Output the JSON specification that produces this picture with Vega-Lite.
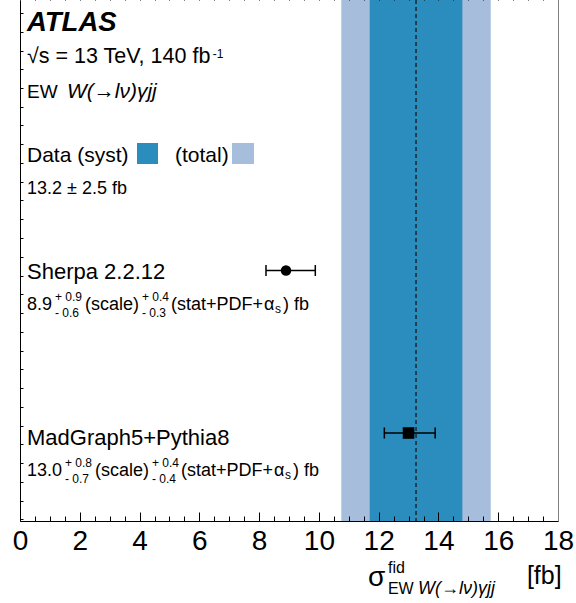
{
  "$schema": "https://vega.github.io/schema/vega-lite/v6.json",
  "width": 538,
  "height": 521,
  "autosize": "none",
  "padding": {"left": 20, "top": 0, "right": 18, "bottom": 82},
  "background": "white",
  "config": {"view": {"stroke": null}, "axis": {"grid": false}},
  "datasets": {
    "bands": [
      {"kind": "total", "lo": 10.75, "hi": 15.75},
      {"kind": "syst", "lo": 11.7, "hi": 14.8}
    ],
    "central": [{"value": 13.25}],
    "preds": [
      {"model": "Sherpa 2.2.12", "x": 8.9, "lo": 8.23, "hi": 9.88, "y": 2.705},
      {"model": "MadGraph5+Pythia8", "x": 13.0, "lo": 12.19, "hi": 13.89, "y": 4.33}
    ],
    "keys": [
      {"kind": "syst", "x": 3.914, "x2": 4.617, "y": 1.43, "y2": 1.64},
      {"kind": "total", "x": 7.093, "x2": 7.829, "y": 1.43, "y2": 1.64}
    ],
    "texts": [
      {"style": "atlas", "x": 0.234, "y": 0.31, "text": "ATLAS"},
      {"style": "energy", "x": 0.234, "y": 0.63, "text": "√s = 13 TeV, 140 fb"},
      {"style": "esup", "x": 6.45, "y": 0.575, "text": "-1"},
      {"style": "med", "x": 0.234, "y": 0.98, "text": "EW"},
      {"style": "medital", "x": 1.57, "y": 0.98, "text": "W(→lν)γjj"},
      {"style": "big", "x": 0.234, "y": 1.62, "text": "Data (syst)"},
      {"style": "big", "x": 5.186, "y": 1.62, "text": "(total)"},
      {"style": "val", "x": 0.234, "y": 1.94, "text": "13.2 ± 2.5 fb"},
      {"style": "name", "x": 0.234, "y": 2.79, "text": "Sherpa 2.2.12"},
      {"style": "val", "x": 0.234, "y": 3.10, "text": "8.9"},
      {"style": "script", "x": 1.171, "y": 3.005, "text": "+ 0.9"},
      {"style": "script", "x": 1.171, "y": 3.165, "text": "- 0.6"},
      {"style": "val", "x": 2.175, "y": 3.10, "text": "(scale)"},
      {"style": "script", "x": 4.082, "y": 3.005, "text": "+ 0.4"},
      {"style": "script", "x": 4.082, "y": 3.165, "text": "- 0.3"},
      {"style": "val", "x": 5.052, "y": 3.10, "text": "(stat+PDF+"},
      {"style": "val", "x": 8.163, "y": 3.10, "text": "α"},
      {"style": "script", "x": 8.531, "y": 3.13, "text": "s"},
      {"style": "val", "x": 8.799, "y": 3.10, "text": ") fb"},
      {"style": "name", "x": 0.234, "y": 4.45, "text": "MadGraph5+Pythia8"},
      {"style": "val", "x": 0.234, "y": 4.76, "text": "13.0"},
      {"style": "script", "x": 1.506, "y": 4.665, "text": "+ 0.8"},
      {"style": "script", "x": 1.506, "y": 4.825, "text": "- 0.7"},
      {"style": "val", "x": 2.509, "y": 4.76, "text": "(scale)"},
      {"style": "script", "x": 4.416, "y": 4.665, "text": "+ 0.4"},
      {"style": "script", "x": 4.416, "y": 4.825, "text": "- 0.4"},
      {"style": "val", "x": 5.386, "y": 4.76, "text": "(stat+PDF+"},
      {"style": "val", "x": 8.498, "y": 4.76, "text": "α"},
      {"style": "script", "x": 8.866, "y": 4.79, "text": "s"},
      {"style": "val", "x": 9.134, "y": 4.76, "text": ") fb"},
      {"style": "sigma", "x": 11.64, "y": 5.86, "text": "σ"},
      {"style": "tsup", "x": 12.31, "y": 5.73, "text": "fid"},
      {"style": "tsub", "x": 12.31, "y": 5.94, "text": "EW"},
      {"style": "tsubital", "x": 13.32, "y": 5.94, "text": "W(→lν)γjj"},
      {"style": "unit", "x": 16.96, "y": 5.84, "text": "[fb]"}
    ]
  },
  "resolve": {"axis": {"x": "independent", "y": "independent"}},
  "layer": [
    {
      "data": {"name": "bands"},
      "transform": [{"filter": "datum.kind === 'total'"}],
      "mark": {"type": "rect", "color": "#a6bddb"},
      "encoding": {
        "x": {"field": "lo", "type": "quantitative", "scale": {"domain": [0, 18], "nice": false, "zero": false}, "axis": null},
        "x2": {"field": "hi"}
      }
    },
    {
      "data": {"name": "bands"},
      "transform": [{"filter": "datum.kind === 'syst'"}],
      "mark": {"type": "rect", "color": "#2b8cbe"},
      "encoding": {
        "x": {"field": "lo", "type": "quantitative", "scale": {"domain": [0, 18], "nice": false, "zero": false}, "axis": null},
        "x2": {"field": "hi"}
      }
    },
    {
      "data": {"name": "central"},
      "mark": {"type": "rule", "color": "#1a1a1a", "strokeWidth": 1.3, "strokeDash": [4, 3]},
      "encoding": {
        "x": {"field": "value", "type": "quantitative", "scale": {"domain": [0, 18], "nice": false, "zero": false}, "axis": null}
      }
    },
    {
      "data": {"name": "keys"},
      "mark": {"type": "rect"},
      "encoding": {
        "x": {"field": "x", "type": "quantitative", "scale": {"domain": [0, 18], "nice": false, "zero": false}, "axis": null},
        "x2": {"field": "x2"},
        "y": {"field": "y", "type": "quantitative", "scale": {"domain": [0, 5.21], "reverse": true, "nice": false, "zero": false}, "axis": null},
        "y2": {"field": "y2"},
        "color": {"field": "kind", "type": "nominal", "scale": {"domain": ["total", "syst"], "range": ["#a6bddb", "#2b8cbe"]}, "legend": null}
      }
    },
    {
      "data": {"name": "preds"},
      "mark": {"type": "rule", "color": "black", "strokeWidth": 1.5},
      "encoding": {
        "x": {"field": "lo", "type": "quantitative", "scale": {"domain": [0, 18], "nice": false, "zero": false}, "axis": null},
        "x2": {"field": "hi"},
        "y": {"field": "y", "type": "quantitative", "scale": {"domain": [0, 5.21], "reverse": true, "nice": false, "zero": false}, "axis": null}
      }
    },
    {
      "data": {"name": "preds"},
      "mark": {"type": "point", "shape": "M0,-1L0,1", "size": 121, "filled": false, "stroke": "black", "strokeWidth": 1.5, "opacity": 1},
      "encoding": {
        "x": {"field": "lo", "type": "quantitative", "scale": {"domain": [0, 18], "nice": false, "zero": false}, "axis": null},
        "y": {"field": "y", "type": "quantitative", "scale": {"domain": [0, 5.21], "reverse": true, "nice": false, "zero": false}, "axis": null}
      }
    },
    {
      "data": {"name": "preds"},
      "mark": {"type": "point", "shape": "M0,-1L0,1", "size": 121, "filled": false, "stroke": "black", "strokeWidth": 1.5, "opacity": 1},
      "encoding": {
        "x": {"field": "hi", "type": "quantitative", "scale": {"domain": [0, 18], "nice": false, "zero": false}, "axis": null},
        "y": {"field": "y", "type": "quantitative", "scale": {"domain": [0, 5.21], "reverse": true, "nice": false, "zero": false}, "axis": null}
      }
    },
    {
      "data": {"name": "preds"},
      "transform": [{"filter": "datum.model === 'Sherpa 2.2.12'"}],
      "mark": {"type": "point", "shape": "circle", "size": 110, "filled": true, "color": "black", "opacity": 1},
      "encoding": {
        "x": {"field": "x", "type": "quantitative", "scale": {"domain": [0, 18], "nice": false, "zero": false}, "axis": null},
        "y": {"field": "y", "type": "quantitative", "scale": {"domain": [0, 5.21], "reverse": true, "nice": false, "zero": false}, "axis": null}
      }
    },
    {
      "data": {"name": "preds"},
      "transform": [{"filter": "datum.model === 'MadGraph5+Pythia8'"}],
      "mark": {"type": "point", "shape": "square", "size": 135, "filled": true, "color": "black", "opacity": 1},
      "encoding": {
        "x": {"field": "x", "type": "quantitative", "scale": {"domain": [0, 18], "nice": false, "zero": false}, "axis": null},
        "y": {"field": "y", "type": "quantitative", "scale": {"domain": [0, 5.21], "reverse": true, "nice": false, "zero": false}, "axis": null}
      }
    },
    {
      "data": {"name": "texts"},
      "transform": [{"filter": "datum.style === 'atlas'"}],
      "mark": {"type": "text", "font": "Liberation Sans", "fontSize": 27.5, "fontWeight": "bold", "fontStyle": "italic", "align": "left", "baseline": "alphabetic", "color": "black"},
      "encoding": {
        "x": {"field": "x", "type": "quantitative", "scale": {"domain": [0, 18], "nice": false, "zero": false},
          "axis": {"orient": "bottom", "zindex": 1, "values": [0,0.5,1,1.5,2,2.5,3,3.5,4,4.5,5,5.5,6,6.5,7,7.5,8,8.5,9,9.5,10,10.5,11,11.5,12,12.5,13,13.5,14,14.5,15,15.5,16,16.5,17,17.5,18],
            "labelExpr": "datum.value % 2 === 0 ? format(datum.value, 'd') : ''",
            "tickSize": {"condition": {"test": "datum.value % 2 === 0", "value": -9}, "value": -5},
            "tickColor": "black", "tickWidth": 1, "domainColor": "black", "domainWidth": 1,
            "labelFont": "Liberation Sans", "labelFontSize": 28, "labelColor": "black", "labelBaseline": "alphabetic",
            "labelPadding": 37, "labelFlush": false, "labelOverlap": false, "labelBound": false, "title": null, "grid": false}},
        "y": {"field": "y", "type": "quantitative", "scale": {"domain": [0, 5.21], "reverse": true, "nice": false, "zero": false},
          "axis": {"orient": "left", "zindex": 1, "values": [0.13,0.3175,0.505,0.6925,0.88,1.0675,1.255,1.4425,1.63,1.8175,2.005,2.1925,2.38,2.5675,2.755,2.9425,3.13,3.3175,3.505,3.6925,3.88,4.0675,4.255,4.4425,4.63,4.8175,5.005,5.1925],
            "labels": false, "tickSize": -3, "tickColor": "black", "domainColor": "black", "title": null, "grid": false}},
        "text": {"field": "text"}
      }
    },
    {
      "data": {"name": "texts"},
      "transform": [{"filter": "datum.style === 'energy'"}],
      "mark": {"type": "text", "font": "Liberation Sans", "fontSize": 21.5, "align": "left", "baseline": "alphabetic", "color": "black"},
      "encoding": {
        "x": {"field": "x", "type": "quantitative", "scale": {"domain": [0, 18], "nice": false, "zero": false},
          "axis": {"orient": "top", "zindex": 1, "values": [0,0.5,1,1.5,2,2.5,3,3.5,4,4.5,5,5.5,6,6.5,7,7.5,8,8.5,9,9.5,10,10.5,11,11.5,12,12.5,13,13.5,14,14.5,15,15.5,16,16.5,17,17.5,18],
            "labels": false, "domain": false,
            "tickSize": {"condition": {"test": "datum.value % 2 === 0", "value": 9}, "value": 5},
            "tickColor": "black", "tickWidth": 1, "title": null, "grid": false}},
        "y": {"field": "y", "type": "quantitative", "scale": {"domain": [0, 5.21], "reverse": true, "nice": false, "zero": false},
          "axis": {"orient": "right", "zindex": 1, "ticks": false, "labels": false, "domainColor": "#808080", "title": null, "grid": false}},
        "text": {"field": "text"}
      }
    },
    {
      "data": {"name": "texts"},
      "transform": [{"filter": "datum.style === 'esup'"}],
      "mark": {"type": "text", "font": "Liberation Sans", "fontSize": 12, "align": "left", "baseline": "alphabetic", "color": "black"},
      "encoding": {
        "x": {"field": "x", "type": "quantitative", "scale": {"domain": [0, 18], "nice": false, "zero": false}, "axis": null},
        "y": {"field": "y", "type": "quantitative", "scale": {"domain": [0, 5.21], "reverse": true, "nice": false, "zero": false}, "axis": null},
        "text": {"field": "text"}
      }
    },
    {
      "data": {"name": "texts"},
      "transform": [{"filter": "datum.style === 'med'"}],
      "mark": {"type": "text", "font": "Liberation Sans", "fontSize": 19, "align": "left", "baseline": "alphabetic", "color": "black"},
      "encoding": {
        "x": {"field": "x", "type": "quantitative", "scale": {"domain": [0, 18], "nice": false, "zero": false}, "axis": null},
        "y": {"field": "y", "type": "quantitative", "scale": {"domain": [0, 5.21], "reverse": true, "nice": false, "zero": false}, "axis": null},
        "text": {"field": "text"}
      }
    },
    {
      "data": {"name": "texts"},
      "transform": [{"filter": "datum.style === 'medital'"}],
      "mark": {"type": "text", "font": "Liberation Sans", "fontSize": 21, "fontStyle": "italic", "align": "left", "baseline": "alphabetic", "color": "black"},
      "encoding": {
        "x": {"field": "x", "type": "quantitative", "scale": {"domain": [0, 18], "nice": false, "zero": false}, "axis": null},
        "y": {"field": "y", "type": "quantitative", "scale": {"domain": [0, 5.21], "reverse": true, "nice": false, "zero": false}, "axis": null},
        "text": {"field": "text"}
      }
    },
    {
      "data": {"name": "texts"},
      "transform": [{"filter": "datum.style === 'big'"}],
      "mark": {"type": "text", "font": "Liberation Sans", "fontSize": 21, "align": "left", "baseline": "alphabetic", "color": "black"},
      "encoding": {
        "x": {"field": "x", "type": "quantitative", "scale": {"domain": [0, 18], "nice": false, "zero": false}, "axis": null},
        "y": {"field": "y", "type": "quantitative", "scale": {"domain": [0, 5.21], "reverse": true, "nice": false, "zero": false}, "axis": null},
        "text": {"field": "text"}
      }
    },
    {
      "data": {"name": "texts"},
      "transform": [{"filter": "datum.style === 'name'"}],
      "mark": {"type": "text", "font": "Liberation Sans", "fontSize": 22, "align": "left", "baseline": "alphabetic", "color": "black"},
      "encoding": {
        "x": {"field": "x", "type": "quantitative", "scale": {"domain": [0, 18], "nice": false, "zero": false}, "axis": null},
        "y": {"field": "y", "type": "quantitative", "scale": {"domain": [0, 5.21], "reverse": true, "nice": false, "zero": false}, "axis": null},
        "text": {"field": "text"}
      }
    },
    {
      "data": {"name": "texts"},
      "transform": [{"filter": "datum.style === 'val'"}],
      "mark": {"type": "text", "font": "Liberation Sans", "fontSize": 18, "align": "left", "baseline": "alphabetic", "color": "black"},
      "encoding": {
        "x": {"field": "x", "type": "quantitative", "scale": {"domain": [0, 18], "nice": false, "zero": false}, "axis": null},
        "y": {"field": "y", "type": "quantitative", "scale": {"domain": [0, 5.21], "reverse": true, "nice": false, "zero": false}, "axis": null},
        "text": {"field": "text"}
      }
    },
    {
      "data": {"name": "texts"},
      "transform": [{"filter": "datum.style === 'script'"}],
      "mark": {"type": "text", "font": "Liberation Sans", "fontSize": 12, "align": "left", "baseline": "alphabetic", "color": "black"},
      "encoding": {
        "x": {"field": "x", "type": "quantitative", "scale": {"domain": [0, 18], "nice": false, "zero": false}, "axis": null},
        "y": {"field": "y", "type": "quantitative", "scale": {"domain": [0, 5.21], "reverse": true, "nice": false, "zero": false}, "axis": null},
        "text": {"field": "text"}
      }
    },
    {
      "data": {"name": "texts"},
      "transform": [{"filter": "datum.style === 'sigma'"}],
      "mark": {"type": "text", "font": "Liberation Sans", "fontSize": 28, "align": "left", "baseline": "alphabetic", "color": "black"},
      "encoding": {
        "x": {"field": "x", "type": "quantitative", "scale": {"domain": [0, 18], "nice": false, "zero": false}, "axis": null},
        "y": {"field": "y", "type": "quantitative", "scale": {"domain": [0, 5.21], "reverse": true, "nice": false, "zero": false}, "axis": null},
        "text": {"field": "text"}
      }
    },
    {
      "data": {"name": "texts"},
      "transform": [{"filter": "datum.style === 'tsup' || datum.style === 'tsub'"}],
      "mark": {"type": "text", "font": "Liberation Sans", "fontSize": 16, "align": "left", "baseline": "alphabetic", "color": "black"},
      "encoding": {
        "x": {"field": "x", "type": "quantitative", "scale": {"domain": [0, 18], "nice": false, "zero": false}, "axis": null},
        "y": {"field": "y", "type": "quantitative", "scale": {"domain": [0, 5.21], "reverse": true, "nice": false, "zero": false}, "axis": null},
        "text": {"field": "text"}
      }
    },
    {
      "data": {"name": "texts"},
      "transform": [{"filter": "datum.style === 'tsubital'"}],
      "mark": {"type": "text", "font": "Liberation Sans", "fontSize": 18, "fontStyle": "italic", "align": "left", "baseline": "alphabetic", "color": "black"},
      "encoding": {
        "x": {"field": "x", "type": "quantitative", "scale": {"domain": [0, 18], "nice": false, "zero": false}, "axis": null},
        "y": {"field": "y", "type": "quantitative", "scale": {"domain": [0, 5.21], "reverse": true, "nice": false, "zero": false}, "axis": null},
        "text": {"field": "text"}
      }
    },
    {
      "data": {"name": "texts"},
      "transform": [{"filter": "datum.style === 'unit'"}],
      "mark": {"type": "text", "font": "Liberation Sans", "fontSize": 25, "align": "left", "baseline": "alphabetic", "color": "black"},
      "encoding": {
        "x": {"field": "x", "type": "quantitative", "scale": {"domain": [0, 18], "nice": false, "zero": false}, "axis": null},
        "y": {"field": "y", "type": "quantitative", "scale": {"domain": [0, 5.21], "reverse": true, "nice": false, "zero": false}, "axis": null},
        "text": {"field": "text"}
      }
    }
  ]
}
